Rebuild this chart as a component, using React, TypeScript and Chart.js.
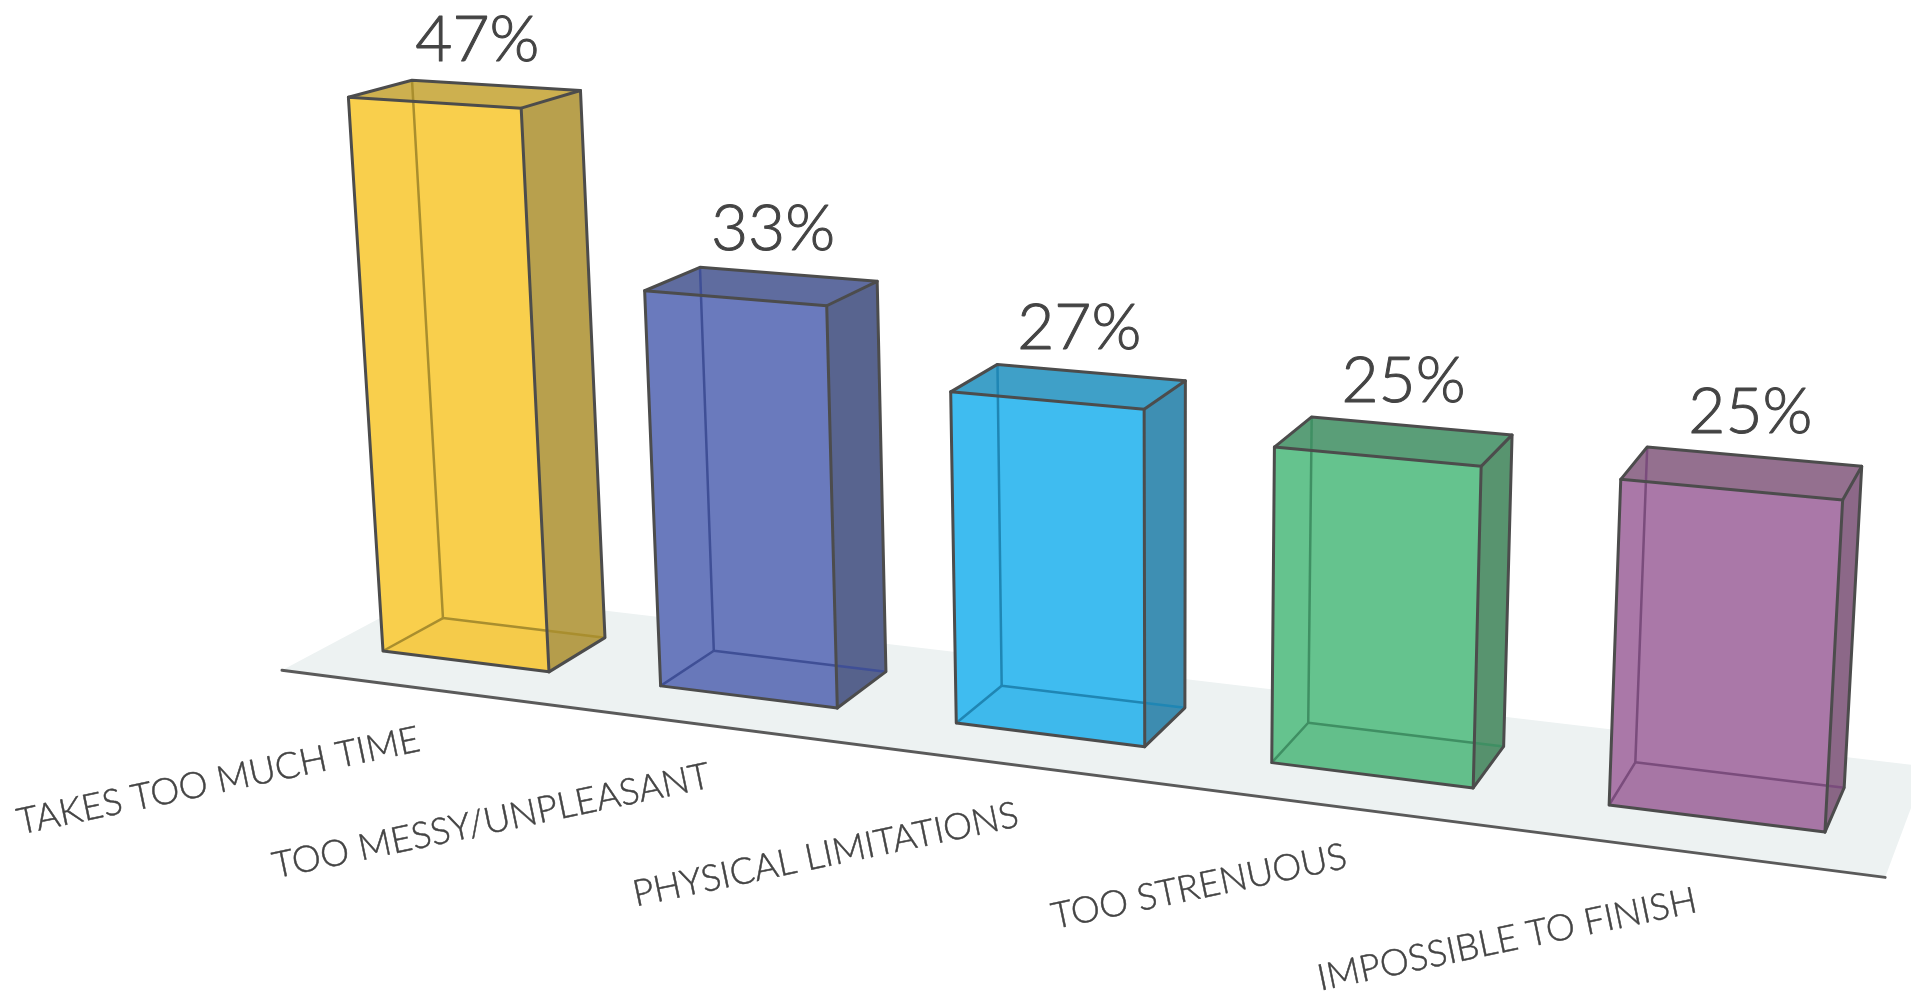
import React, { useEffect, useRef } from "react";
import { Chart, registerables } from "chart.js";

Chart.register(...registerables);

const categories = [
  "TAKES TOO MUCH TIME",
  "TOO MESSY/UNPLEASANT",
  "PHYSICAL LIMITATIONS",
  "TOO STRENUOUS",
  "IMPOSSIBLE TO FINISH",
];
const shares = [47, 33, 27, 25, 25];

const frontFills = ["#F9CF4C", "#6A7ABD", "#3FBCF0", "#65C38E", "#AA78A8"];
const sideFills = ["#B8A04D", "#58648F", "#3E8FB3", "#58946F", "#8C6888"];
const topFills = ["#CDB04F", "#5F6C9F", "#3FA0C8", "#5A9E78", "#94708F"];
const innerLines = ["#A98E2E", "#3F4F96", "#1F86B4", "#3F8F63", "#7A4C7C"];

const INK = "#444444";
const EDGE = "#4C4C4C";
const FLOOR = "#EDF2F2";
const BAR_SHARE = 0.6053;

// Floor extent in box units: X across the row, Z into the scene.
const FLOOR_X = [-0.1965, 4.806];
const FLOOR_Z = [-0.75, 1.7];

type P = [number, number];

// Perspective camera: X counts category slots, Y counts percent, Z counts box depths.
function project(X: number, Y: number, Z: number): P {
  const w = 1 - 0.03047 * X - 0.0009 * Y + 0.031 * Z;
  return [
    (383 + 257.5 * X - 1.05 * Y + 73.7 * Z) / w,
    (651 + 13.97 * X - 11.87 * Y - 13.8 * Z) / w,
  ];
}

function fillPoly(ctx: CanvasRenderingContext2D, pts: P[], color: string) {
  ctx.beginPath();
  pts.forEach((p, i) => (i ? ctx.lineTo(p[0], p[1]) : ctx.moveTo(p[0], p[1])));
  ctx.closePath();
  ctx.fillStyle = color;
  ctx.fill();
}

function strokeLine(
  ctx: CanvasRenderingContext2D,
  pts: P[],
  color: string,
  width: number,
) {
  ctx.beginPath();
  pts.forEach((p, i) => (i ? ctx.lineTo(p[0], p[1]) : ctx.moveTo(p[0], p[1])));
  ctx.strokeStyle = color;
  ctx.lineWidth = width;
  ctx.lineJoin = "round";
  ctx.lineCap = "round";
  ctx.stroke();
}

// Light-weight text with a hairline outline to bring up its stroke weight.
function drawText(
  ctx: CanvasRenderingContext2D,
  text: string,
  x: number,
  y: number,
  outline: number,
) {
  ctx.fillStyle = INK;
  ctx.strokeStyle = INK;
  ctx.lineWidth = outline;
  ctx.fillText(text, x, y);
  ctx.strokeText(text, x, y);
}

const perspectiveBars = {
  id: "perspectiveBars",
  beforeDatasetsDraw(chart: any) {
    const ctx: CanvasRenderingContext2D = chart.ctx;
    const [x0, x1] = FLOOR_X;
    const [z0, z1] = FLOOR_Z;
    fillPoly(
      ctx,
      [project(x0, 0, z0), project(x1, 0, z0), project(x1, 0, z1), project(x0, 0, z1)],
      FLOOR,
    );
    strokeLine(ctx, [project(x0, 0, z0), project(x1, 0, z0)], "#5A5A5A", 3);
  },
  // The flat bars only supply geometry; the boxes below replace them.
  beforeDatasetDraw() {
    return false;
  },
  afterDatasetsDraw(chart: any) {
    const ctx: CanvasRenderingContext2D = chart.ctx;
    const xScale = chart.scales.x;
    const yScale = chart.scales.y;
    const bars = chart.getDatasetMeta(0).data;
    const pitch = xScale.getPixelForValue(1) - xScale.getPixelForValue(0);
    const origin = bars[0].x - bars[0].width / 2;

    bars.forEach((bar: any, i: number) => {
      const xl = (bar.x - bar.width / 2 - origin) / pitch;
      const xr = (bar.x + bar.width / 2 - origin) / pitch;
      const v = yScale.getValueForPixel(bar.y);
      const fbl = project(xl, 0, 0);
      const fbr = project(xr, 0, 0);
      const ftl = project(xl, v, 0);
      const ftr = project(xr, v, 0);
      const bbl = project(xl, 0, 1);
      const bbr = project(xr, 0, 1);
      const btl = project(xl, v, 1);
      const btr = project(xr, v, 1);

      fillPoly(ctx, [ftl, ftr, btr, btl], topFills[i]);
      fillPoly(ctx, [fbr, bbr, btr, ftr], sideFills[i]);
      fillPoly(ctx, [fbl, fbr, ftr, ftl], frontFills[i]);
      fillPoly(ctx, [fbl, fbr, bbr, bbl], "rgba(0,0,0,0.015)");

      // Edges seen through the box.
      strokeLine(ctx, [btl, bbl, bbr], innerLines[i], 2.5);
      strokeLine(ctx, [bbl, fbl], innerLines[i], 2.5);

      // Outer edges.
      strokeLine(ctx, [fbl, fbr, ftr, ftl, fbl], EDGE, 3);
      strokeLine(ctx, [fbr, bbr, btr, ftr], EDGE, 3);
      strokeLine(ctx, [ftl, btl, btr], EDGE, 3);

      // Value above the box.
      const cx = (xl + xr) / 2;
      const lx = project(cx, v, 0.6)[0] + 6;
      const ly = project(cx, v, 1)[1] - 24;
      ctx.font = "300 64px Lato";
      ctx.textAlign = "center";
      ctx.textBaseline = "alphabetic";
      drawText(ctx, `${shares[i]}%`, lx, ly, 1);

      // Category name, tilted along the floor line and ending at its anchor.
      const anchor = project(0.61 + 0.9425 * i, 0, -2.08 + 0.0575 * i);
      ctx.save();
      ctx.translate(anchor[0], anchor[1]);
      ctx.rotate((-11.8 * Math.PI) / 180);
      ctx.font = "300 36.5px Lato";
      ctx.textAlign = "right";
      drawText(ctx, categories[i], 0, 0, 0.5);
      ctx.restore();
    });
  },
};

export default function App() {
  const canvasRef = useRef<HTMLCanvasElement>(null);

  useEffect(() => {
    document.body.style.margin = "0";
    const chart = new Chart(canvasRef.current!, {
      type: "bar",
      data: {
        labels: categories,
        datasets: [
          {
            data: shares,
            backgroundColor: frontFills,
            barPercentage: BAR_SHARE,
            categoryPercentage: 1,
          },
        ],
      },
      options: {
        responsive: false,
        animation: false,
        layout: { padding: 0 },
        scales: {
          x: { display: false },
          y: { display: false, min: 0, max: 50 },
        },
        plugins: { legend: { display: false }, tooltip: { enabled: false } },
      },
      plugins: [perspectiveBars],
    } as any);
    return () => chart.destroy();
  }, []);

  return <canvas ref={canvasRef} width={1911} height={993} style={{ display: "block" }} />;
}
